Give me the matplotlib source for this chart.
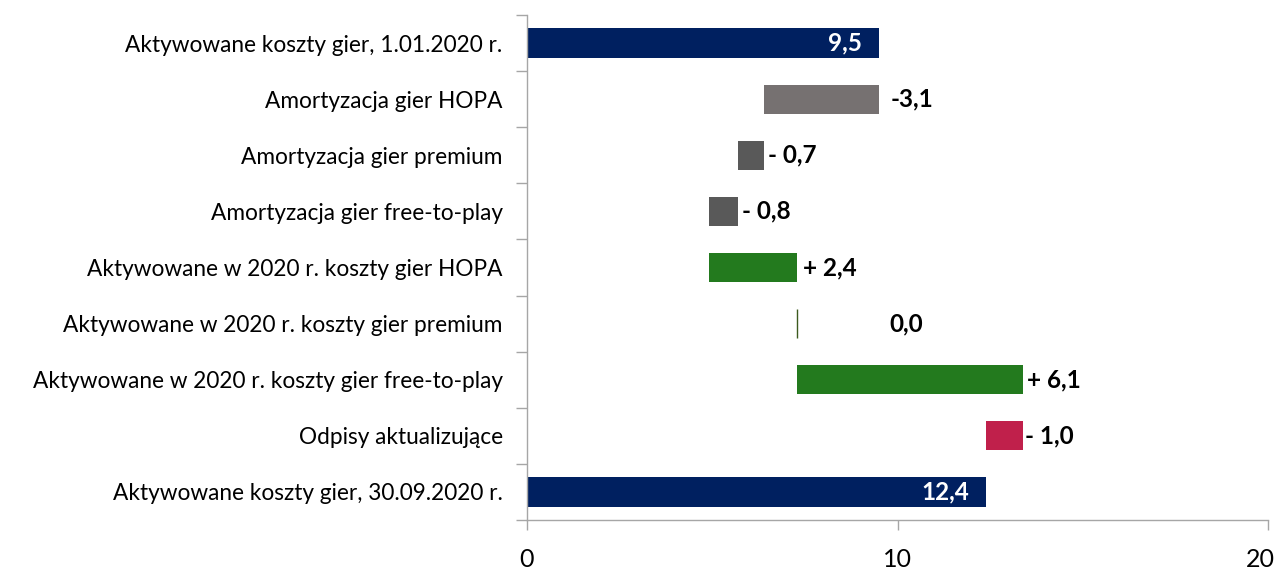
import matplotlib
matplotlib.use("Agg")
import matplotlib.pyplot as plt
import matplotlib.transforms as mtransforms
from matplotlib.ticker import FixedLocator

categories = [
    "Aktywowane koszty gier, 1.01.2020 r.",
    "Amortyzacja gier HOPA",
    "Amortyzacja gier premium",
    "Amortyzacja gier free-to-play",
    "Aktywowane w 2020 r. koszty gier HOPA",
    "Aktywowane w 2020 r. koszty gier premium",
    "Aktywowane w 2020 r. koszty gier free-to-play",
    "Odpisy aktualizujące",
    "Aktywowane koszty gier, 30.09.2020 r.",
]
values = [9.5, -3.1, -0.7, -0.8, 2.4, 0.0, 6.1, -1.0, 12.4]
kinds = ["total", "delta", "delta", "delta", "delta", "delta", "delta", "delta", "total"]
value_labels = ["9,5", "-3,1", "- 0,7", "- 0,8", "+ 2,4", "0,0", "+ 6,1", "- 1,0", "12,4"]
colors = ["#002060", "#767171", "#595959", "#595959", "#237A1E", "#3C5A1E", "#237A1E", "#C0204B", "#002060"]
label_offsets_px = [-17, 12, 4, 4, 6, 92, 4, 2, -17]
x_ticks = [0, 10, 20]

plt.rcParams["font.family"] = ["Lato", "DejaVu Sans"]

fig = plt.figure(figsize=(12.8, 5.77), dpi=100)
ax = fig.add_axes([527/1280, 1 - 520/577, (1268 - 527)/1280, (520 - 15)/577])

cum = 0.0
ends = []
for i, (v, k) in enumerate(zip(values, kinds)):
    if k == "total":
        left, width = 0.0, v
        cum = v
    else:
        left = cum + v if v < 0 else cum
        width = abs(v)
        cum = cum + v
    if width == 0:
        ax.barh(i, 0.0001, left=left, height=0.52, color=colors[i],
                edgecolor=colors[i], linewidth=1.0)
    else:
        ax.barh(i, width, left=left, height=0.52, color=colors[i], linewidth=0)
    ends.append(left + width)

for i, (end, lab, k) in enumerate(zip(ends, value_labels, kinds)):
    off = label_offsets_px[i] * 0.72
    if k == "total":
        ax.annotate(lab, (end, i), xytext=(off, 0), textcoords="offset points",
                    ha="right", va="center", color="white", fontsize=17.5,
                    fontweight="bold")
    else:
        ax.annotate(lab, (end, i), xytext=(off, 0), textcoords="offset points",
                    ha="left", va="center", color="black", fontsize=17.5,
                    fontweight="bold")

ax.set_xlim(0, 20)
ax.set_ylim(len(categories) - 0.5, -0.5)
ax.set_xticks(x_ticks)
ax.set_xticklabels([str(t) for t in x_ticks], fontsize=18)
ax.set_yticks(range(len(categories)))
ax.set_yticklabels(categories, fontsize=16.3)
ax.yaxis.set_minor_locator(FixedLocator([i - 0.5 for i in range(len(categories) + 1)]))
ax.tick_params(axis="y", which="major", length=0, pad=17.5)
ax.tick_params(axis="y", which="minor", length=8, width=1, color="#A6A6A6")
ax.tick_params(axis="x", which="major", length=7, width=1, color="#A6A6A6", pad=13)

# keep the last x tick label inside the figure
last = ax.get_xticklabels()[-1]
last.set_transform(last.get_transform() +
                   mtransforms.ScaledTranslation(-8 / 100, 0, fig.dpi_scale_trans))

for s in ["top", "right"]:
    ax.spines[s].set_visible(False)
for s in ["left", "bottom"]:
    ax.spines[s].set_color("#A6A6A6")
    ax.spines[s].set_linewidth(1)

fig.savefig("out.png", dpi=100)
